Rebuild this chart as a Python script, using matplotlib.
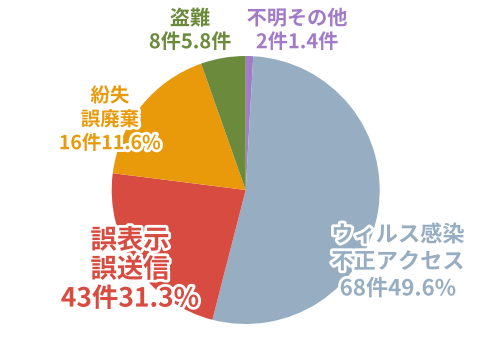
# 情報漏えい事故の原因別件数（円グラフ）
import matplotlib.pyplot as plt
import matplotlib.patheffects as pe

plt.rcParams['font.family'] = ['Noto Sans CJK JP', 'DejaVu Sans']

# データ（時計回り、上から）
names = ['不明その他', 'ウィルス感染\n不正アクセス', '誤表示\n誤送信', '紛失\n誤廃棄', '盗難']
count_labels = ['2件1.4件', '68件49.6%', '43件31.3%', '16件11.6%', '8件5.8件']
# 図に描かれている扇形の割合（%）
shares = [0.9, 53.1, 23.0, 17.6, 5.4]
colors = ['#a27bc8', '#97aec2', '#d84b40', '#e99a0b', '#6c8a3b']

fig = plt.figure(figsize=(5, 3.53), dpi=100)
ax = fig.add_axes([0, 0, 1, 1])

ax.pie(shares, colors=colors, startangle=90, counterclock=False,
       center=(245.7, 163), radius=134, frame=True,
       wedgeprops={'linewidth': 0})
ax.set_xlim(0, 500)
ax.set_ylim(0, 353)
ax.set_aspect('equal')
ax.axis('off')

# ラベル（白フチ付き）
stroke = [pe.withStroke(linewidth=4, foreground='white')]
label_pos = [(297, 323, 14.5, 1.15), (398, 91, 16, 1.22), (130, 83, 19, 1.1),
             (110, 233, 14, 1.3), (190, 323, 14.5, 1.15)]
for name, cnt, col, (x, y, fs, ls) in zip(names, count_labels, colors, label_pos):
    ax.text(x, y, name + '\n' + cnt, ha='center', va='center', fontsize=fs,
            color=col, fontweight='bold', linespacing=ls, path_effects=stroke)

fig.savefig('out.png', dpi=100)
